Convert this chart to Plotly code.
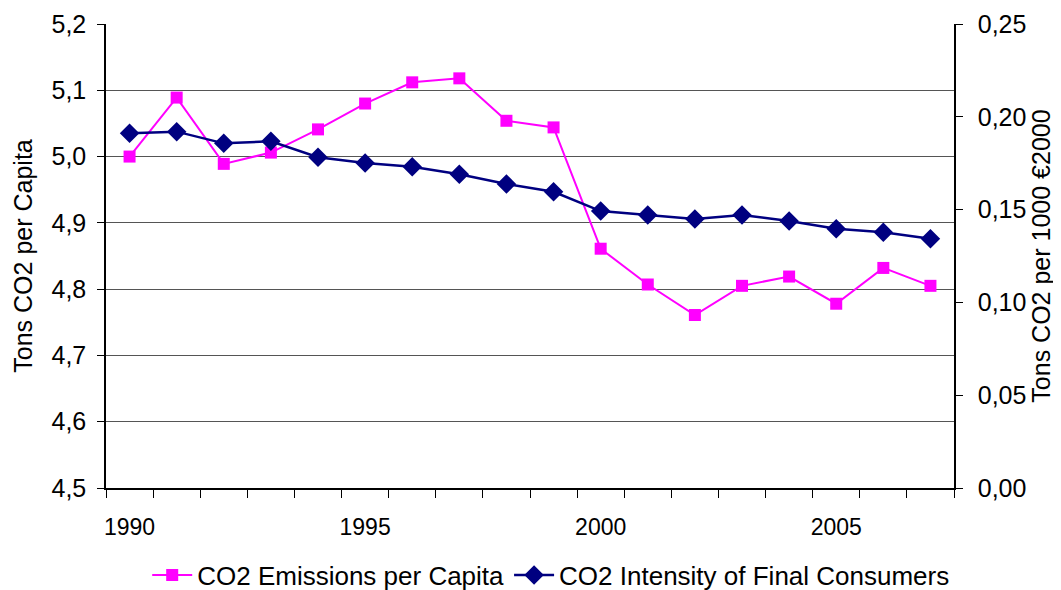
import plotly.graph_objects as go

years = list(range(1990, 2008))
emissions_per_capita = [5.000, 5.089, 4.989, 5.006, 5.041, 5.080, 5.112, 5.118, 5.054, 5.044,
                        4.861, 4.807, 4.761, 4.805, 4.819, 4.778, 4.832, 4.805]
intensity_final = [0.1911, 0.1920, 0.1857, 0.1868, 0.1782, 0.1751, 0.1731, 0.1690, 0.1638, 0.1596,
                   0.1492, 0.1471, 0.1449, 0.1471, 0.1439, 0.1397, 0.1378, 0.1343]
x_labels = [1990, 1995, 2000, 2005]

FONT = "Liberation Sans, Arial, sans-serif"

fig = go.Figure()
fig.add_trace(go.Scatter(
    x=years, y=emissions_per_capita, name="CO2 Emissions per Capita",
    mode="lines+markers",
    line=dict(color="#FF00FF", width=2),
    marker=dict(symbol="square", size=12, color="#FF00FF"),
    yaxis="y",
))
fig.add_trace(go.Scatter(
    x=years, y=intensity_final, name="CO2 Intensity of Final Consumers",
    mode="lines+markers",
    line=dict(color="#000080", width=2.5),
    marker=dict(symbol="diamond", size=15, color="#000080"),
    yaxis="y2",
))

fig.update_layout(
    width=1061, height=590,
    margin=dict(l=98, r=115, t=16, b=110),
    paper_bgcolor="white", plot_bgcolor="white",
    separators=", ",
    font=dict(family=FONT, size=24, color="black"),
    showlegend=True,
    legend=dict(orientation="h", x=0.525, xanchor="center",
                yref="container", y=0.039, yanchor="middle",
                font=dict(size=26), bgcolor="rgba(0,0,0,0)", itemwidth=40,
                tracegroupgap=0),
    xaxis=dict(
        range=[1989.5, 2007.5], automargin=False,
        tickmode="array", tickvals=x_labels, ticktext=[str(v) for v in x_labels],
        ticks="", showgrid=False, zeroline=False, ticklabelstandoff=18,
        showline=True, linecolor="black", linewidth=1.5,
        minor=dict(tickmode="linear", tick0=1989.5, dtick=1, ticks="outside",
                   ticklen=8, tickcolor="black", tickwidth=1, showgrid=False),
        tickfont=dict(size=23),
    ),
    yaxis=dict(
        range=[4.5, 5.2], dtick=0.1, tickformat=".1f", automargin=False,
        showgrid=True, gridcolor="#555555", gridwidth=1,
        zeroline=False, showline=True, linecolor="black", linewidth=1.5,
        ticks="outside", ticklen=7, tickcolor="black", ticklabelstandoff=6,
        title=dict(text="Tons CO2 per Capita", font=dict(size=25), standoff=12),
        tickfont=dict(size=25),
    ),
    yaxis2=dict(
        range=[0, 0.25], dtick=0.05, tickformat=".2f", automargin=False,
        overlaying="y", side="right",
        showgrid=False, zeroline=False, showline=True, linecolor="black", linewidth=1.5,
        ticks="outside", ticklen=7, tickcolor="black", ticklabelstandoff=10,
        title=dict(text="Tons CO2 per 1000 €2000", font=dict(size=25), standoff=7),
        tickfont=dict(size=25),
    ),
)

fig.write_html("out.html")
